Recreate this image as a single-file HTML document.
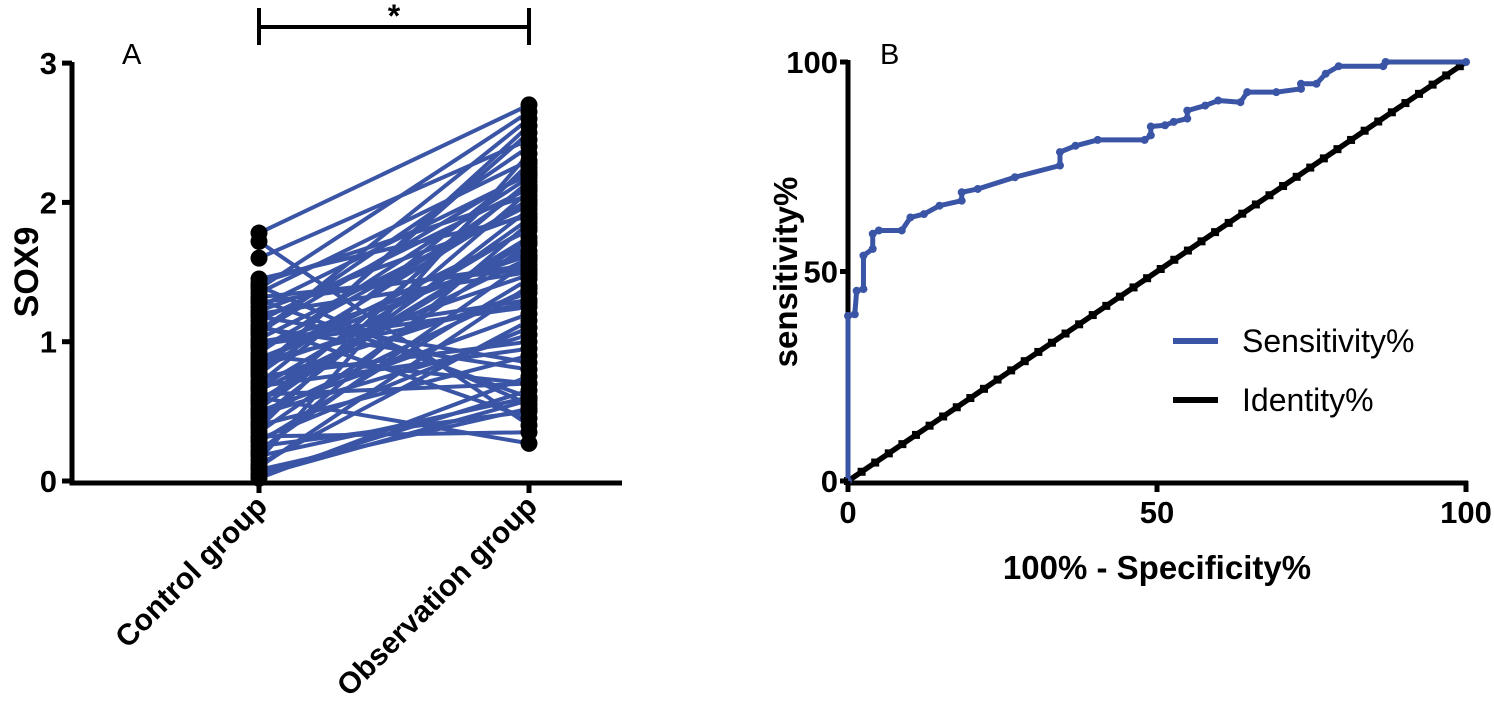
<!DOCTYPE html>
<html><head><meta charset="utf-8"><style>
body{margin:0;background:#fff}
svg{display:block;font-family:"Liberation Sans",Arial,sans-serif}
</style></head><body>
<svg id="c" width="1494" height="713" viewBox="0 0 1494 713">
<g id="pa"></g>
<g id="pb"></g>
</svg>
<script>
// Panel A data
const groups = ["Control group","Observation group"];
const ctrl = [1.78,1.72,1.60,1.45,1.40,1.35,1.30,1.25,1.20,1.15,1.10,1.05,1.00,0.95,0.90,0.85,0.80,0.75,0.70,0.65,0.60,0.55,0.50,0.45,0.40,0.35,0.30,0.25,0.20,0.15,0.10,0.05,0.02,1.42,1.28,1.18,1.08,0.98,0.88,0.78,0.68,0.58,0.48,0.38,0.28,0.18,0.08,1.12,0.92,0.72,0.52,0.32,0.12,1.38,1.02,0.82,0.62,0.42,0.22,0.04,1.22,0.97,0.77,0.57,0.87,1.07,0.67,1.32,0.47,0.83];
const obs  = [2.70,0.40,2.45,1.90,0.55,2.30,0.60,2.20,1.50,2.10,0.80,2.60,1.30,2.00,0.70,1.80,2.50,1.00,2.25,1.60,0.27,2.15,1.20,1.95,0.90,1.70,1.10,0.50,1.85,2.35,1.40,0.65,0.75,2.05,1.55,0.85,2.40,1.25,1.65,2.55,0.95,1.75,1.05,2.28,1.45,0.60,0.52,0.45,2.18,1.35,1.88,0.35,1.15,2.65,1.98,1.48,0.70,2.08,1.58,0.58,1.92,1.62,2.12,1.72,1.28,2.22,1.82,1.52,1.38,2.02];
const aTicks = [0,1,2,3];
// Panel B data
const fpr = [0,0,1.1,1.4,2.5,2.5,4,4,5,8.7,10.1,12.3,14.8,18.4,18.4,21,27,34.3,34.3,36.8,40.4,48,49,49,51.3,52.7,54.9,54.9,57.8,59.9,63.5,64.6,69.3,73.3,73.3,75.8,77.3,79.4,86.6,87,100];
const tpr = [0,39.4,39.8,45.4,45.8,53.8,55.4,59,59.8,59.8,62.9,63.7,65.7,66.9,68.9,69.7,72.5,75.3,78.5,80,81.4,81.4,82.5,84.6,84.9,85.7,86.5,88.4,89.6,90.8,90.4,92.8,92.8,93.6,94.8,94.8,97.2,99,99,100,100];
const identity = [0,100];
const bTicks = [0,50,100];

const NS="http://www.w3.org/2000/svg";
function mk(p,t,a){const e=document.createElementNS(NS,t);for(const k in a)e.setAttribute(k,a[k]);p.appendChild(e);return e;}
const pa=document.getElementById('pa'), pb=document.getElementById('pb');
const BLUE="#3b55a6";

// Panel A scales
const ay=v=>481-v*139.3;
const ax=i=>259+i*270;
for(let i=0;i<ctrl.length;i++){
  const l=mk(pa,'line',{x1:ax(0),y1:ay(ctrl[i]),x2:ax(1),y2:ay(obs[i]),stroke:BLUE,'stroke-width':4});
  
  
}
for(let i=0;i<ctrl.length;i++){
  const c1=mk(pa,'circle',{cx:ax(0),cy:ay(ctrl[i]),r:8.5,fill:'#000'});
  
  
  const c2=mk(pa,'circle',{cx:ax(1),cy:ay(obs[i]),r:8.5,fill:'#000'});
  
  
}
let e=mk(pa,'path',{d:'M72,62 V483 H622',stroke:'#000','stroke-width':5,fill:'none'});


aTicks.forEach(v=>{
  mk(pa,'line',{x1:62,x2:72,y1:ay(v),y2:ay(v),stroke:'#000','stroke-width':5});
  const t=mk(pa,'text',{x:57,y:ay(v)+11,'text-anchor':'end','font-size':31,'font-weight':'bold'});
  t.textContent=v;
  
  
});
groups.forEach((g,i)=>{
  mk(pa,'line',{x1:ax(i),x2:ax(i),y1:481,y2:493,stroke:'#000','stroke-width':5});
  const t=mk(pa,'text',{x:ax(i)+10,y:508,'text-anchor':'end','font-size':30,'font-weight':'bold',transform:`rotate(-45 ${ax(i)+10} 508)`});
  t.textContent=g;
  
  
});
e=mk(pa,'text',{x:0,y:0,'font-size':34,'font-weight':'bold','text-anchor':'middle',transform:'translate(38,272) rotate(-90)'});
e.textContent='SOX9';


e=mk(pa,'text',{x:122,y:64,'font-size':29});e.textContent='A';


e=mk(pa,'path',{d:'M259,8 V45 M259,27 H529 M529,8 V45',stroke:'#000','stroke-width':4,fill:'none'});


e=mk(pa,'text',{x:394,y:27,'font-size':32,'text-anchor':'middle','font-weight':'bold'});e.textContent='*';



// Panel B scales
const bx=v=>848+v*6.18;
const by=v=>481-v*4.19;
e=mk(pb,'path',{d:'M848,60 V483 H1468',stroke:'#000','stroke-width':5,fill:'none'});


e=mk(pb,'line',{x1:bx(identity[0]),y1:by(identity[0]),x2:bx(identity[1]),y2:by(identity[1]),stroke:'#000','stroke-width':5.5});


for(let v=identity[0];v<=identity[1];v+=2.2){
  const r=mk(pb,'rect',{x:bx(v)-4,y:by(v)-4,width:8,height:8,fill:'#000'});
  
  
}
e=mk(pb,'polyline',{points:fpr.map((f,i)=>bx(f)+','+by(tpr[i])).join(' '),stroke:BLUE,'stroke-width':5,fill:'none','stroke-linejoin':'round'});


fpr.forEach((f,i)=>{
  const c=mk(pb,'circle',{cx:bx(f),cy:by(tpr[i]),r:4,fill:BLUE});
  
  
});
bTicks.forEach(v=>{
  mk(pb,'line',{x1:840,x2:848,y1:by(v),y2:by(v),stroke:'#000','stroke-width':5});
  let t=mk(pb,'text',{x:838,y:by(v)+11,'text-anchor':'end','font-size':31,'font-weight':'bold'});
  t.textContent=v;
  
  
  mk(pb,'line',{x1:bx(v),x2:bx(v),y1:481,y2:492,stroke:'#000','stroke-width':5});
  t=mk(pb,'text',{x:bx(v),y:523,'text-anchor':'middle','font-size':31,'font-weight':'bold'});
  t.textContent=v;
  
  
});
e=mk(pb,'text',{x:1157,y:579,'text-anchor':'middle','font-size':33,'font-weight':'bold'});
e.textContent='100% - Specificity%';


e=mk(pb,'text',{x:0,y:0,'font-size':33,'font-weight':'bold','text-anchor':'middle',transform:'translate(797,272) rotate(-90)'});
e.textContent='sensitivity%';


e=mk(pb,'text',{x:880,y:64,'font-size':29});e.textContent='B';


// legend
e=mk(pb,'line',{x1:1173,x2:1218,y1:341,y2:341,stroke:BLUE,'stroke-width':6});


e=mk(pb,'text',{x:1242,y:352,'font-size':32});e.textContent='Sensitivity%';


e=mk(pb,'line',{x1:1173,x2:1218,y1:400,y2:400,stroke:'#000','stroke-width':6});


e=mk(pb,'text',{x:1242,y:411,'font-size':32});e.textContent='Identity%';


</script>
</body></html>
